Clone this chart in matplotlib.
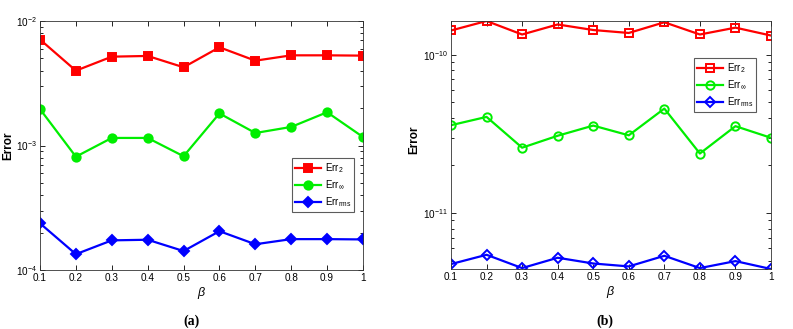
import matplotlib
matplotlib.use("Agg")
import matplotlib.pyplot as plt
from matplotlib.ticker import LogLocator, NullFormatter

plt.rcParams['font.family'] = ['Liberation Sans', 'DejaVu Sans']
plt.rcParams['mathtext.fontset'] = 'custom'
plt.rcParams['mathtext.rm'] = 'Liberation Sans'
plt.rcParams['mathtext.it'] = 'Liberation Sans:italic'

beta = [0.1, 0.2, 0.3, 0.4, 0.5, 0.6, 0.7, 0.8, 0.9, 1.0]
xtick_labels = ['0.1', '0.2', '0.3', '0.4', '0.5', '0.6', '0.7', '0.8', '0.9', '1']

a_err2 = [7.1e-3, 3.99e-3, 5.17e-3, 5.24e-3, 4.25e-3, 6.15e-3, 4.8e-3, 5.3e-3, 5.3e-3, 5.27e-3]
a_errinf = [1.96e-3, 8.13e-4, 1.15e-3, 1.15e-3, 8.2e-4, 1.81e-3, 1.26e-3, 1.41e-3, 1.85e-3, 1.17e-3]
a_errrms = [2.37e-4, 1.34e-4, 1.73e-4, 1.75e-4, 1.42e-4, 2.05e-4, 1.61e-4, 1.77e-4, 1.77e-4, 1.76e-4]

b_err2 = [1.42e-10, 1.63e-10, 1.34e-10, 1.55e-10, 1.43e-10, 1.37e-10, 1.60e-10, 1.34e-10, 1.48e-10, 1.32e-10]
b_errinf = [3.59e-11, 4.05e-11, 2.59e-11, 3.08e-11, 3.57e-11, 3.10e-11, 4.57e-11, 2.38e-11, 3.54e-11, 2.99e-11]
b_errrms = [4.78e-12, 5.47e-12, 4.51e-12, 5.24e-12, 4.82e-12, 4.62e-12, 5.39e-12, 4.51e-12, 4.99e-12, 4.45e-12]

labels = [r'Err$_2$', r'Err$_\infty$', r'Err$_{\rm rms}$']
colors = ['#ff0000', '#00ee00', '#0000ff']
markers = ['s', 'o', 'D']

W, H = 793, 329
fig = plt.figure(figsize=(W / 100, H / 100), dpi=100)

def px_axes(l, r, t, b):
    return fig.add_axes([l / W, 1 - b / H, (r - l) / W, (b - t) / H])

ax_a = px_axes(40, 363, 21, 270)
ax_b = px_axes(451, 771, 21, 269)

def draw(ax, series, filled, ylim, legend_bbox, ylabel_x, ylabel_y):
    for y, c, m, lab in zip(series, colors, markers, labels):
        ms = 6 if m != 'D' else 5.5
        ax.plot(beta, y, color=c, marker=m, lw=1.6, ms=ms,
                markerfacecolor=c if filled else 'none',
                markeredgewidth=1.4, label=lab)
    ax.set_yscale('log')
    ax.set_xlim(0.1, 1.0)
    ax.set_ylim(*ylim)
    ax.set_xticks(beta)
    ax.set_xticklabels(xtick_labels)
    ax.yaxis.set_major_locator(LogLocator(base=10, numticks=10))
    ax.yaxis.set_minor_locator(LogLocator(base=10, subs=range(2, 10), numticks=20))
    ax.yaxis.set_minor_formatter(NullFormatter())
    ax.tick_params(which='both', direction='in', top=True, right=True, labelsize=7.2, width=0.6)
    ax.tick_params(which='major', length=3.5, pad=2.5)
    ax.tick_params(which='minor', length=2)
    for s in ax.spines.values():
        s.set_linewidth(0.6)
        s.set_color('#333333')
    ax.set_ylabel('Error', fontsize=8.5, fontweight='bold')
    ax.yaxis.set_label_coords(ylabel_x / W, 1 - ylabel_y / H, transform=fig.transFigure)
    ax.set_xlabel(r'$\beta$', fontsize=9, labelpad=1)
    leg = ax.legend(loc='upper left', bbox_to_anchor=legend_bbox, bbox_transform=fig.transFigure,
                    fontsize=7, frameon=True, fancybox=False, edgecolor='#333333',
                    handlelength=2.6, borderpad=0.35, labelspacing=0.35, handletextpad=0.4,
                    borderaxespad=0)
    leg.get_frame().set_linewidth(0.8)

draw(ax_a, [a_err2, a_errinf, a_errrms], True, (1e-4, 1e-2),
     (292 / W, 1 - 158 / H), 14, 146)
draw(ax_b, [b_err2, b_errinf, b_errrms], False,
     (min(b_errrms), max(b_err2)), (694 / W, 1 - 58 / H), 420, 140)

fig.text(192 / W, 1 - 321 / H, '(a)', ha='center', va='center', fontsize=10,
         fontweight='bold', family='Liberation Serif')
fig.text(605 / W, 1 - 321 / H, '(b)', ha='center', va='center', fontsize=10,
         fontweight='bold', family='Liberation Serif')

fig.savefig('out.png', dpi=100)
